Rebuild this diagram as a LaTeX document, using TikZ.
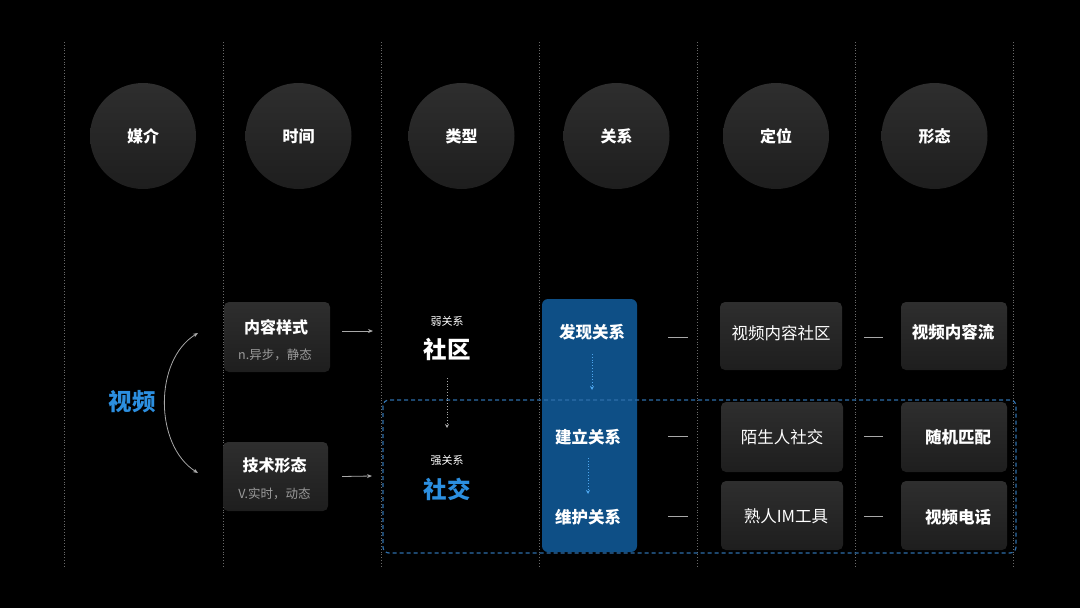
\documentclass[tikz,border=0pt]{standalone}
\usepackage{fontspec}
\setmainfont{Noto Sans CJK SC}
\newfontfamily\cjk{Noto Sans CJK SC}
\usetikzlibrary{arrows.meta}
\definecolor{bg}{HTML}{000000}
\definecolor{gridc}{HTML}{6A6A6A}
\definecolor{boxtop}{HTML}{2E2E2E}
\definecolor{boxbot}{HTML}{1E1E1E}
\definecolor{blueT}{HTML}{2C8FE0}
\definecolor{colblue}{HTML}{0E4F86}
\definecolor{dashblue}{HTML}{2E6EAA}
\definecolor{subgray}{HTML}{9A9A9A}
\definecolor{arrowgray}{HTML}{A8A8A8}
\definecolor{lblue}{HTML}{4DA6EE}
\tikzset{
  gridline/.style={gridc, dotted, line width=0.8pt},
  circ/.style={circle, minimum size=106pt, inner sep=0pt, top color=boxtop, bottom color=boxbot, text=white, font=\cjk\fontsize{16}{16}\selectfont\bfseries},
  card/.style={rounded corners=5pt, top color=boxtop, bottom color=boxbot, text=white, inner sep=0pt},
  cardtitle/.style={text=white, font=\cjk\fontsize{16}{16}\selectfont\bfseries},
  cardsub/.style={text=subgray, font=\cjk\fontsize{12.5}{12.5}\selectfont},
  cellR/.style={text=white, font=\cjk\fontsize{16.5}{16.5}\selectfont},
  cellB/.style={text=white, font=\cjk\fontsize{16.5}{16.5}\selectfont\bfseries},
  rel/.style={text=white, font=\cjk\fontsize{16.5}{16.5}\selectfont\bfseries},
  grayarrow/.style={arrowgray, line width=0.8pt, -{Stealth[length=5pt,width=4pt]}},
  dotarrow/.style={line width=0.8pt, dotted, -{Stealth[length=4pt,width=4pt]}},
  dashline/.style={arrowgray, line width=1pt},
}
\begin{document}
\begin{tikzpicture}[x=1pt,y=-1pt]
\fill[bg] (0,0) rectangle (1080,608);
\useasboundingbox (0,0) rectangle (1080,608);
% grid lines
\foreach \x in {64.5,223,381,539,697,855,1013.5}
  \draw[gridline] (\x,42) -- (\x,568);
% circles
\node[circ] (c1) at (143,136) {媒介};
\node[circ] (c2) at (298.5,136) {时间};
\node[circ] (c3) at (461.5,136) {类型};
\node[circ] (c4) at (616.5,136) {关系};
\node[circ] (c5) at (776,136) {定位};
\node[circ] (c6) at (934.5,136) {形态};
% blue column
\fill[colblue, rounded corners=6pt] (542,299) rectangle (637,552);
% dashed frame
\draw[dashblue, line width=1.2pt, dash pattern=on 4pt off 3pt, rounded corners=6pt] (383,400) rectangle (1016,553);
% video
\node[text=blueT, font=\cjk\fontsize{23.5}{23.5}\selectfont\bfseries] (v) at (132,402) {视频};
% left cards
\node[card, minimum width=106pt, minimum height=70pt] (k1) at (277,337) {};
\node[cardtitle] (k1t) at (276,327) {内容样式};
\node[cardsub] (k1s) at (275,355) {n.异步，静态};
\node[card, minimum width=105pt, minimum height=69pt] (k2) at (275.5,476.5) {};
\node[cardtitle] (k2t) at (274.5,465) {技术形态};
\node[cardsub] (k2s) at (274.5,494) {V.实时，动态};
% curved arrows from video
\coordinate (ctop) at (198,333);
\coordinate (cbot) at (198,473);
\draw[arrowgray, line width=0.8pt, {Stealth[length=5pt,width=4pt]}-{Stealth[length=5pt,width=4pt]}] (ctop) .. controls (154,360) and (154,445) .. (cbot);
% arrows to type column
\coordinate (a1) at (373,331);
\coordinate (a2) at (372,476);
\draw[grayarrow] (k1.east) ++(12,-6) coordinate (a1s) -- (a1);
\draw[grayarrow] (k2.east) ++(14,0) coordinate (a2s) -- (a2);
% type column
\node[text=white, font=\cjk\fontsize{11}{11}\selectfont] (w1) at (447,321) {弱关系};
\node[text=white, font=\cjk\fontsize{23.5}{23.5}\selectfont\bfseries] (sq) at (447,349) {社区};
\node[text=white, font=\cjk\fontsize{11}{11}\selectfont] (w2) at (447,460) {强关系};
\node[text=blueT, font=\cjk\fontsize{23.5}{23.5}\selectfont\bfseries] (sj) at (447,489) {社交};
\draw[dotarrow, arrowgray] (447,378) -- (447,428);
% relation column
\node[rel] (r1) at (592,332) {发现关系};
\node[rel] (r2) at (588,437) {建立关系};
\node[rel] (r3) at (588,517) {维护关系};
\draw[dotarrow, lblue] (592,354) -- (592,390);
\draw[dotarrow, lblue] (588,458) -- (588,494);
% position column cards
\node[card, minimum width=122pt, minimum height=68pt] (p1) at (781,336) {};
\node[cellR] at (781,333) {视频内容社区};
\node[card, minimum width=122pt, minimum height=70pt] (p2) at (782,437) {};
\node[cellR] at (p2) {陌生人社交};
\node[card, minimum width=122pt, minimum height=69pt] (p3) at (782,515.5) {};
\node[cellR] at (786,516) {熟人IM工具};
% form column cards
\node[card, minimum width=106pt, minimum height=68pt] (f1) at (954,336) {};
\node[cellB] at (953,332) {视频内容流};
\node[card, minimum width=106pt, minimum height=70pt] (f2) at (954,437) {};
\node[cellB] at (958,437) {随机匹配};
\node[card, minimum width=106pt, minimum height=69pt] (f3) at (954,515.5) {};
\node[cellB] at (958,517) {视频电话};
% dashes
\foreach \y in {337,436,516} {
  \draw[dashline] (668,\y) -- (688,\y);
  \draw[dashline] (864,\y) -- (883,\y);
}
\end{tikzpicture}
\end{document}
